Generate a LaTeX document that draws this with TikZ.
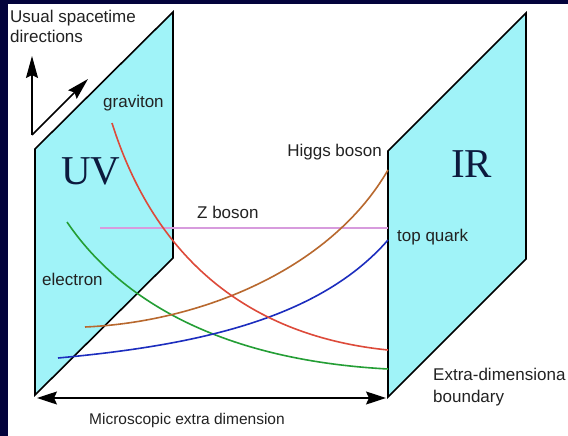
\documentclass[tikz,border=0pt]{standalone}
\usepackage{fontspec}
\setmainfont{Liberation Sans}
\newfontfamily\serifbig{Liberation Serif}
\usetikzlibrary{arrows.meta}
\definecolor{navy}{HTML}{03033C}
\definecolor{panelfill}{HTML}{A0F3F8}
\definecolor{txt}{HTML}{222222}
\definecolor{bigtxt}{HTML}{0C1A3E}
\definecolor{cgrav}{HTML}{DD4A3A}
\definecolor{chiggs}{HTML}{B8682E}
\definecolor{cz}{HTML}{D79BDD}
\definecolor{ctop}{HTML}{1C2DBE}
\definecolor{celec}{HTML}{249E35}
\tikzset{
  lbl/.style={font=\fontsize{17}{20}\selectfont, text=txt, inner sep=0pt, anchor=base west},
  big/.style={font=\serifbig\fontsize{41}{44}\selectfont, text=bigtxt, inner sep=0pt, anchor=base west},
  panel/.style={fill=panelfill, draw=black, line width=1.6pt, line join=miter},
  axis/.style={draw=black, line width=1.5pt, -{Stealth[length=22pt,width=12pt,inset=3pt]}},
  dimarrow/.style={draw=black, line width=1.3pt, {Stealth[length=20pt,width=13pt,inset=3pt]}-{Stealth[length=20pt,width=13pt,inset=3pt]}},
  particle/.style={line width=1.6pt}
}
\begin{document}
\begin{tikzpicture}[x=1pt,y=-1pt]
% frame
\fill[navy] (0,0) rectangle (568,436);
\fill[white] (8,4) rectangle (568,436);
\useasboundingbox (0,0) rectangle (568,436);

% panels
\draw[panel] (35,395) -- (35,149) -- (173,12) -- (173,258) -- cycle;
\draw[panel] (388,397) -- (388,151) -- (526,13) -- (526,259) -- cycle;

% particle profiles
\coordinate (g0) at (112,123); \coordinate (g1) at (388,350);
\coordinate (h0) at (85,327);  \coordinate (h1) at (388,170);
\coordinate (z0) at (100,228); \coordinate (z1) at (388,228);
\coordinate (t0) at (58,358);  \coordinate (t1) at (388,240);
\coordinate (e0) at (67,222);  \coordinate (e1) at (388,369);
\draw[particle, cz] (z0) -- (z1);
\draw[particle, celec] (e0) .. controls (120,300) and (220,360) .. (e1);
\draw[particle, chiggs] (h0) .. controls (200,322) and (330,270) .. (h1);
\draw[particle, ctop] (t0) .. controls (200,345) and (320,318) .. (t1);
\draw[particle, cgrav] (g0) .. controls (152,250) and (240,335) .. (g1);

% spacetime direction arrows
\coordinate (o) at (32,135);
\coordinate (up) at (32,56);
\coordinate (diag) at (88,79);
\draw[axis] (o) -- (up);
\draw[axis] (o) -- (diag);

% extra dimension arrow
\coordinate (dl) at (37,398);
\coordinate (dr) at (386,398);
\draw[dimarrow] (dl) -- (dr);

% labels
\node[lbl] (usual) at (10,23) {Usual spacetime};
\node[lbl] (dirs) at (10,43) {directions};
\node[lbl] (grav) at (103,107) {graviton};
\node[lbl, anchor=base east] (higgs) at (382,157) {Higgs boson};
\node[lbl] (zb) at (197,218) {Z boson};
\node[lbl] (top) at (397,241) {top quark};
\node[lbl] (elec) at (42,285) {electron};
\node[lbl] (extra) at (433,380) {Extra-dimensiona};
\node[lbl] (bound) at (433,402) {boundary};
\node[lbl, anchor=base, font=\fontsize{15.5}{18}\selectfont] (micro) at (187,424) {Microscopic extra dimension};
\node[big] (uv) at (61,184) {UV};
\node[big] (ir) at (451,177) {IR};
\end{tikzpicture}
\end{document}
